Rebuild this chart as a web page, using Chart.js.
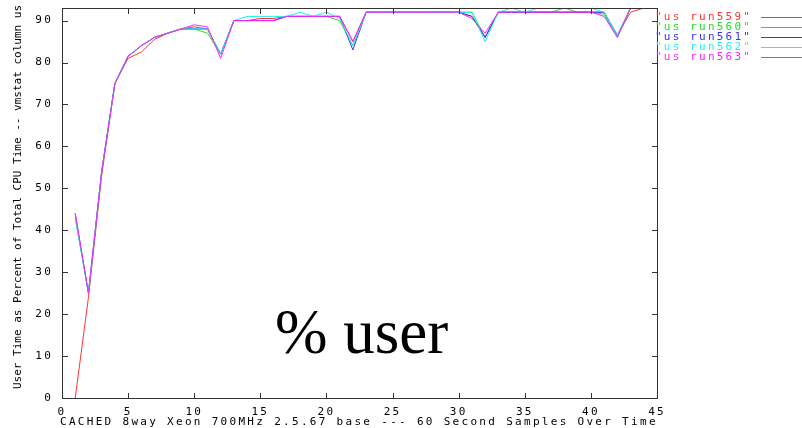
<!DOCTYPE html>
<html>
<head>
<meta charset="utf-8">
<script src="https://cdn.jsdelivr.net/npm/chart.js@4/dist/chart.umd.min.js"></script>
<style>
  body { margin: 0; background: #fff; }
  #wrap { position: relative; width: 802px; height: 428px; }
  #big { position: absolute; left: 275px; top: 296px; font: 63px 'Liberation Serif', serif; color: #000; }
</style>
</head>
<body>
<div id="wrap">
  <canvas id="cpuChart" width="802" height="428"></canvas>
  <div id="big">% user</div>
</div>
<script>
// sample index (60 second samples)
const samples = [1,2,3,4,5,6,7,8,9,10,11,12,13,14,15,16,17,18,19,20,21,22,23,24,25,26,27,28,29,30,31,32,33,34,35,36,37,38,39,40,41,42,43,44,45]

const run559 = [0,24,53,75,81,82.5,85.5,87,88,88.5,88,82,90,90,90.5,90.5,91,91,91,91,91,85,92,92,92,92,92,92,92,92,91,86,92,92,92,92,92,92,92,92,92,86.5,92,93,93]
const run560 = [43,25,54,75,81.5,84,86,87,88,88,87,82,90,90,90,90,91,91,91,91,90,84,92,92,92,92,92,92,92,92,92,86,92,92,92,92,92,93,92,92,91.5,86,93,93,93]
const run561 = [44,25,54,75,81.5,84,86,87,88,88,88,82,90,90,90,90,91,91,91,91,91,83,92,92,92,92,92,92,92,92,91,86,92,92,92,92,92,92,92,92,92,86.5,93,93,93]
const run562 = [43,25,54,75,81.5,84,86,87,88,88,88,82,90,91,91,91,91,92,91,92,90.5,84,92,92,92,92,92,92,92,92,92,85,92,93,92,93,93,93,93,93,92,86.5,93,93,93]
const run563 = [44,25,54,75,81.5,84,86,87,88,89,88.5,81,90,90,90,90,91,91,91,91,91,85,92,92,92,92,92,92,92,92,90.5,87,92,92,92,92,92,92,92,92,91,86,93,93,93]

const xTicks = [0,5,10,15,20,25,30,35,40,45]
const yTicks = [0,10,20,30,40,50,60,70,80,90]

const seriesNames = ['"us run559"','"us run560"','"us run561"','"us run562"','"us run563"']
const seriesValues = [run559, run560, run561, run562, run563]
const seriesColors = ['#ff3333','#22e022','#3333ff','#22f0f0','#ff22ff']

const xTitle = 'CACHED 8way Xeon 700MHz 2.5.67 base --- 60 Second Samples Over Time'
const yTitle = 'User Time as Percent of Total CPU Time -- vmstat column us'

const monoFont = "11px 'DejaVu Sans Mono', monospace"

// gnuplot look: letter spaced labels, inward ticks on all four sides, legend at the right
const gnuplotLook = {
  id: 'gnuplotLook',
  beforeLayout(chart) { chart.ctx.letterSpacing = '2.2px' },
  beforeDraw(chart) { chart.ctx.letterSpacing = '2.2px' },
  afterDraw(chart) {
    const ctx = chart.ctx
    const a = chart.chartArea
    const xs = chart.scales.x, ys = chart.scales.y
    const L = Math.round(a.left), T = Math.round(a.top), R = Math.round(a.right), B = Math.round(a.bottom)
    ctx.save()
    ctx.fillStyle = '#333'
    // frame
    ctx.fillRect(L, T, R - L + 1, 1)
    ctx.fillRect(L, B, R - L + 1, 1)
    ctx.fillRect(L, T, 1, B - T + 1)
    ctx.fillRect(R, T, 1, B - T + 1)
    // inward ticks
    xs.ticks.forEach(t => {
      const px = Math.round(xs.getPixelForValue(t.value))
      ctx.fillRect(px, B - 5, 1, 5)
      ctx.fillRect(px, T + 1, 1, 5)
    })
    ys.ticks.forEach(t => {
      const py = Math.round(ys.getPixelForValue(t.value))
      ctx.fillRect(L + 1, py, 5, 1)
      ctx.fillRect(R - 5, py, 5, 1)
    })

    ctx.font = monoFont
    ctx.fillStyle = '#000'
    ctx.letterSpacing = '2.3px'
    ctx.textBaseline = 'middle'
    ctx.textAlign = 'left'
    ctx.fillText(xTitle, a.left - 2, 422)

    ctx.letterSpacing = '0px'
    ctx.translate(18, (a.top + a.bottom) / 2 - 6)
    ctx.rotate(-Math.PI / 2)
    ctx.textAlign = 'center'
    ctx.fillText(yTitle, 0, 0)
    ctx.restore()

    ctx.save()
    ctx.font = monoFont
    ctx.letterSpacing = '2.2px'
    ctx.textBaseline = 'middle'
    ctx.textAlign = 'left'
    chart.data.datasets.forEach((ds, i) => {
      const y = 17 + i * 10
      ctx.fillStyle = ds.borderColor
      ctx.fillText(ds.label, 655, y)
      ctx.fillRect(761, y, 41, 1)
    })
    ctx.restore()
  }
}

let cpuChart = new Chart(document.getElementById('cpuChart').getContext('2d'), {
  type: 'line',
  data: {
    datasets: seriesNames.map((name, i) => ({
      label: name,
      data: samples.map((s, j) => ({x: s, y: seriesValues[i][j]})),
      borderColor: seriesColors[i],
      borderWidth: 1,
      pointRadius: 0,
      tension: 0,
      fill: false,
      order: seriesNames.length - i
    }))
  },
  options: {
    responsive: false,
    animation: false,
    events: [],
    layout: { padding: { left: 0, top: 8, right: 145, bottom: 0 } },
    plugins: { legend: { display: false }, tooltip: { enabled: false } },
    scales: {
      x: {
        type: 'linear', min: 0, max: 45,
        grid: { display: false, drawTicks: false },
        border: { display: false },
        ticks: { color: '#000', font: { family: "'DejaVu Sans Mono', monospace", size: 11 }, padding: 8, maxRotation: 0, autoSkip: false },
        afterBuildTicks: s => { s.ticks = xTicks.map(v => ({value: v})) },
        afterFit: s => { s.height = 30; s.paddingLeft = 0; s.paddingRight = 0 }
      },
      y: {
        type: 'linear', min: 0, max: 93,
        grid: { display: false, drawTicks: false },
        border: { display: false },
        ticks: { color: '#000', font: { family: "'DejaVu Sans Mono', monospace", size: 11 }, padding: 9, autoSkip: false },
        afterBuildTicks: s => { s.ticks = yTicks.map(v => ({value: v})) },
        afterFit: s => { s.width = 62; s.paddingTop = 0; s.paddingBottom = 0 }
      }
    }
  },
  plugins: [gnuplotLook]
})
</script>
</body>
</html>
